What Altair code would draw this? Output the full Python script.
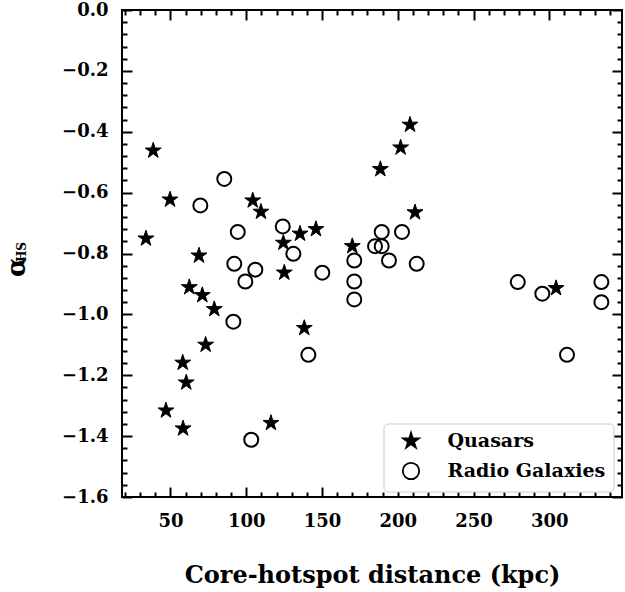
import altair as alt
import pandas as pd

# ---- data ----
quasar_dist = [33.8, 38.6, 49.7, 68.8, 62.4, 71.0, 78.9, 73.2, 58.1, 60.4, 47.0, 58.3,
               104.3, 109.7, 124.5, 125.1, 135.5, 146.0, 138.3, 116.3, 170.0, 188.5,
               201.9, 208.1, 211.4, 304.5]
quasar_alpha = [-0.751, -0.462, -0.623, -0.807, -0.911, -0.937, -0.983, -1.100, -1.159,
                -1.224, -1.316, -1.375, -0.626, -0.663, -0.765, -0.863, -0.735, -0.720,
                -1.045, -1.357, -0.776, -0.523, -0.452, -0.377, -0.665, -0.914]

galaxy_dist = [85.5, 69.7, 94.4, 124.1, 131.1, 92.1, 106.0, 99.4, 150.2, 171.3, 171.3,
               171.3, 91.5, 141.0, 103.3, 185.0, 189.4, 189.4, 202.8, 194.2, 212.5,
               279.2, 295.4, 334.4, 334.4, 311.7]
galaxy_alpha = [-0.555, -0.642, -0.729, -0.711, -0.801, -0.834, -0.853, -0.892, -0.863,
                -0.823, -0.892, -0.951, -1.024, -1.133, -1.412, -0.776, -0.776, -0.729,
                -0.729, -0.823, -0.834, -0.894, -0.932, -0.894, -0.960, -1.133]

types = ["Quasars", "Radio Galaxies"]
x_major = [50, 100, 150, 200, 250, 300]
x_minor = [v for v in range(20, 350, 10) if v % 50 != 0]
y_major = [0.0, -0.2, -0.4, -0.6, -0.8, -1.0, -1.2, -1.4, -1.6]
y_minor = [round(-0.04 * i, 2) for i in range(1, 40) if i % 5 != 0]
x_title = "Core-hotspot distance (kpc)"
y_title_main = "α"
y_title_sub = "HS"

FONT = "DejaVu Serif"
W, H = 500, 487
STAR = ("M0,-1 L0.2245,-0.309 L0.9511,-0.309 L0.3633,0.118 L0.5878,0.809 L0,0.382 "
        "L-0.5878,0.809 L-0.3633,0.118 L-0.9511,-0.309 L-0.2245,-0.309 Z")

qdf = pd.DataFrame({"x": quasar_dist, "y": quasar_alpha, "type": types[0]})
gdf = pd.DataFrame({"x": galaxy_dist, "y": galaxy_alpha, "type": types[1]})

xs = alt.Scale(domain=[18, 348], nice=False, zero=False)
ys = alt.Scale(domain=[-1.6, 0], nice=False, zero=False)


def ax(orient, values, size, labels=False, **kw):
    return alt.Axis(orient=orient, values=values, tickSize=size, offset=-size,
                    labels=labels, domain=False, grid=False, tickWidth=2,
                    tickColor="black", labelFont=FONT, labelFontSize=18,
                    labelFontWeight="bold", labelColor="black", **kw)


legend = alt.Legend(orient="none", legendX=261.5, legendY=413.5, padding=8,
                    fillColor="white", strokeColor="#cccccc", cornerRadius=4,
                    labelFont=FONT, labelFontSize=19, labelFontWeight="bold",
                    labelColor="black", labelLimit=400, symbolSize=270,
                    symbolStrokeColor="black", symbolStrokeWidth=1.8, rowPadding=7,
                    labelOffset=27, symbolOffset=10, title=None)

shape_enc = alt.Shape("type:N", scale=alt.Scale(domain=types, range=[STAR, "circle"]),
                      legend=legend)
fill_enc = alt.Fill("type:N", scale=alt.Scale(domain=types, range=["black", "transparent"]),
                    legend=legend)
stroke_enc = alt.Stroke("type:N", scale=alt.Scale(domain=types, range=["black", "black"]),
                        legend=legend)

circles = alt.Chart(gdf).mark_point(size=196, strokeWidth=2, opacity=1).encode(
    x=alt.X("x:Q", scale=xs,
            axis=ax("bottom", x_major, 10, labels=True, labelPadding=15,
                    labelFlush=False, title=x_title, titleFont=FONT,
                    titleFontSize=24, titleFontWeight="bold", titleColor="black",
                    titlePadding=33)),
    y=alt.Y("y:Q", scale=ys,
            axis=ax("left", y_major, 10, labels=True, labelPadding=14,
                    format=".1f", labelFlush=False, title=None)),
    shape=shape_enc,
    fill=fill_enc,
    stroke=stroke_enc,
)

stars = alt.Chart(qdf).mark_point(size=280, strokeWidth=1, opacity=1).encode(
    x=alt.X("x:Q", scale=xs, axis=ax("bottom", x_minor, 5, title=None)),
    y=alt.Y("y:Q", scale=ys, axis=ax("left", y_minor, 5, title=None)),
    shape=shape_enc,
    fill=fill_enc,
    stroke=stroke_enc,
)

ghost1 = alt.Chart(qdf).mark_point(opacity=0).encode(
    x=alt.X("x:Q", scale=xs, axis=ax("top", x_major, 10, title=None)),
    y=alt.Y("y:Q", scale=ys, axis=ax("right", y_major, 10, title=None)),
)
ghost2 = alt.Chart(qdf).mark_point(opacity=0).encode(
    x=alt.X("x:Q", scale=xs, axis=ax("top", x_minor, 5, title=None)),
    y=alt.Y("y:Q", scale=ys, axis=ax("right", y_minor, 5, title=None)),
)

frame = alt.Chart(pd.DataFrame({"t": [0]})).mark_rect(
    fill="transparent", stroke="black", strokeWidth=2).encode(
    x=alt.value(0), x2=alt.value(W), y=alt.value(0), y2=alt.value(H))

ytitle_a = alt.Chart(pd.DataFrame({"t": [y_title_main]})).mark_text(
    angle=270, align="center", baseline="alphabetic", font=FONT, fontSize=26,
    fontWeight="bold", color="black").encode(
    text="t:N", x=alt.value(-97), y=alt.value(257))
ytitle_s = alt.Chart(pd.DataFrame({"t": [y_title_sub]})).mark_text(
    angle=270, align="center", baseline="alphabetic", font=FONT, fontSize=12,
    fontWeight="bold", color="black").encode(
    text="t:N", x=alt.value(-96), y=alt.value(242))

chart = alt.layer(circles, stars, ghost1, ghost2, frame, ytitle_a, ytitle_s).resolve_axis(
    x="independent", y="independent"
).properties(
    width=W, height=H,
    autosize=alt.AutoSizeParams(type="none"),
    padding={"left": 122, "top": 10, "right": 3, "bottom": 95},
).configure_view(stroke="black", strokeWidth=2).configure(font=FONT)

chart.save("out.html", embed_options={"renderer": "svg", "actions": False})
